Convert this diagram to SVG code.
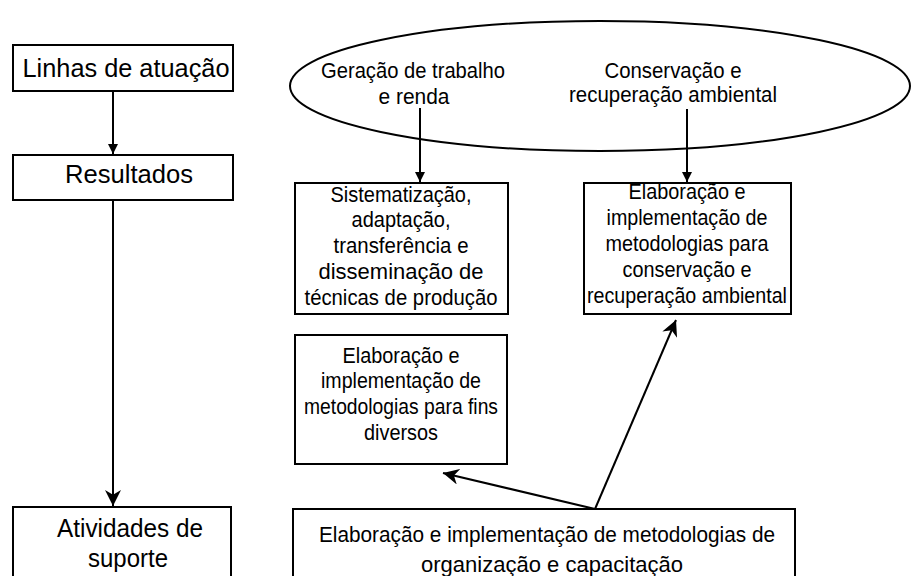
<svg xmlns="http://www.w3.org/2000/svg" width="911" height="576" viewBox="0 0 911 576">
<defs>
<style>
.box{fill:#fff;stroke:#000;stroke-width:2}
.t{font-family:"Liberation Sans",Arial,sans-serif;font-size:22px;fill:#000;text-anchor:middle}
.big{font-size:25px}
.c{fill:none;stroke:#000;stroke-width:2}
</style>
<marker id="sm" viewBox="0 0 10 10" refX="10" refY="5" markerWidth="5" markerHeight="5" orient="auto" markerUnits="strokeWidth">
<path d="M0,0 L10,5 L0,10 z" fill="#000"/>
</marker>
<marker id="lg" viewBox="0 0 10 10" refX="10" refY="5" markerWidth="8" markerHeight="8" orient="auto" markerUnits="strokeWidth">
<path d="M0,0 L10,5 L0,10 L3,5 z" fill="#000"/>
</marker>
</defs>
<rect width="911" height="576" fill="#fff"/>
<g id="connectors">
<line class="c" x1="113" y1="91" x2="113" y2="154" marker-end="url(#sm)"/>
<line class="c" x1="113" y1="200" x2="113" y2="506" marker-end="url(#lg)"/>
<line class="c" x1="420" y1="108" x2="420" y2="182" marker-end="url(#sm)"/>
<line class="c" x1="687" y1="109" x2="687" y2="182" marker-end="url(#sm)"/>
<line class="c" x1="595" y1="509" x2="443" y2="473" marker-end="url(#lg)"/>
<line class="c" x1="595" y1="509" x2="676" y2="320" marker-end="url(#lg)"/>
</g>
<g id="linhas">
<rect class="box" x="13" y="45" width="220" height="46"/>
<text class="t big" x="126" y="77" textLength="207" lengthAdjust="spacingAndGlyphs">Linhas de atuação</text>
</g>
<g id="resultados">
<rect class="box" x="13" y="155" width="220" height="45"/>
<text class="t big" x="129" y="183" textLength="128" lengthAdjust="spacingAndGlyphs">Resultados</text>
</g>
<g id="atividades">
<rect class="box" x="13" y="507" width="218" height="80"/>
<text class="t big" x="130" y="537" textLength="146" lengthAdjust="spacingAndGlyphs">Atividades de</text>
<text class="t big" x="128" y="567" textLength="80" lengthAdjust="spacingAndGlyphs">suporte</text>
</g>
<g id="ellipse">
<ellipse cx="600" cy="86" rx="310" ry="65" fill="none" stroke="#000" stroke-width="2"/>
<text class="t" x="413" y="78" textLength="184" lengthAdjust="spacingAndGlyphs">Geração de trabalho</text>
<text class="t" x="414" y="104" textLength="71" lengthAdjust="spacingAndGlyphs">e renda</text>
<text class="t" x="673" y="78" textLength="137" lengthAdjust="spacingAndGlyphs">Conservação e</text>
<text class="t" x="673" y="102" textLength="208" lengthAdjust="spacingAndGlyphs">recuperação ambiental</text>
</g>
<g id="sistematizacao">
<rect class="box" x="295" y="183" width="213" height="131"/>
<text class="t" x="401" y="202" textLength="141" lengthAdjust="spacingAndGlyphs">Sistematização,</text>
<text class="t" x="401" y="227" textLength="99" lengthAdjust="spacingAndGlyphs">adaptação,</text>
<text class="t" x="401" y="253" textLength="135" lengthAdjust="spacingAndGlyphs">transferência e</text>
<text class="t" x="401" y="279" textLength="165" lengthAdjust="spacingAndGlyphs">disseminação de</text>
<text class="t" x="401" y="305" textLength="193" lengthAdjust="spacingAndGlyphs">técnicas de produção</text>
</g>
<g id="conservacao">
<rect class="box" x="584" y="183" width="207" height="131"/>
<text class="t" x="687" y="199" textLength="117" lengthAdjust="spacingAndGlyphs">Elaboração e</text>
<text class="t" x="687" y="225" textLength="161" lengthAdjust="spacingAndGlyphs">implementação de</text>
<text class="t" x="687" y="251" textLength="163" lengthAdjust="spacingAndGlyphs">metodologias para</text>
<text class="t" x="687" y="277" textLength="129" lengthAdjust="spacingAndGlyphs">conservação e</text>
<text class="t" x="687" y="303" textLength="200" lengthAdjust="spacingAndGlyphs">recuperação ambiental</text>
</g>
<g id="fins">
<rect class="box" x="295" y="335" width="212" height="129"/>
<text class="t" x="401" y="363" textLength="117" lengthAdjust="spacingAndGlyphs">Elaboração e</text>
<text class="t" x="401" y="388" textLength="160" lengthAdjust="spacingAndGlyphs">implementação de</text>
<text class="t" x="401" y="414" textLength="194" lengthAdjust="spacingAndGlyphs">metodologias para fins</text>
<text class="t" x="401" y="440" textLength="74" lengthAdjust="spacingAndGlyphs">diversos</text>
</g>
<g id="organizacao">
<rect class="box" x="293" y="509" width="502" height="80"/>
<text class="t" x="547" y="542" textLength="456" lengthAdjust="spacingAndGlyphs">Elaboração e implementação de metodologias de</text>
<text class="t" x="552" y="572" textLength="262" lengthAdjust="spacingAndGlyphs">organização e capacitação</text>
</g>
</svg>
